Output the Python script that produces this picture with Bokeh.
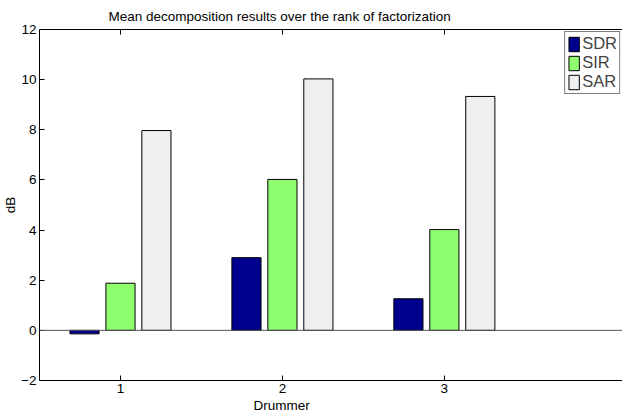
from bokeh.plotting import figure
from bokeh.models import ColumnDataSource, LinearAxis, FixedTicker, Span, Title, Range1d
from bokeh.transform import dodge
from bokeh.embed import file_html
from bokeh.resources import INLINE

drummers = [1, 2, 3]
sdr = [-0.14, 2.9, 1.26]
sir = [1.88, 6.02, 4.02]
sar = [7.97, 10.03, 9.33]
series_names = ["SDR", "SIR", "SAR"]
series_colors = ["#00008f", "#8fff70", "#efefef"]
y_ticks = [-2, 0, 2, 4, 6, 8, 10, 12]

FONT = "Liberation Sans"
FS = "13.5px"

src = ColumnDataSource(dict(x=drummers, SDR=sdr, SIR=sir, SAR=sar))

p = figure(width=622, height=418, output_backend="svg", toolbar_location=None,
           x_range=Range1d(0.5, 4.10), y_range=Range1d(-2, 12),
           min_border_left=39, min_border_right=0, min_border_top=29, min_border_bottom=38,
           x_axis_type=None, y_axis_type=None)
p.outline_line_color = None
p.xgrid.visible = False
p.ygrid.visible = False

offsets = [-0.222, 0.0, 0.222]
for name, col, off in zip(series_names, series_colors, offsets):
    p.vbar(x=dodge("x", off), top=name, bottom=0, width=0.18, source=src,
           fill_color=col, line_color="black", line_width=1, legend_label=name)

p.add_layout(Span(location=0, dimension="width", line_color="#555555", line_width=1))

def style_axis(ax):
    ax.major_tick_in = 5
    ax.major_tick_out = 0
    ax.minor_tick_in = 0
    ax.minor_tick_out = 0
    ax.axis_line_color = "black"
    ax.axis_line_width = 1
    ax.major_tick_line_color = "black"
    ax.major_label_text_font = FONT
    ax.major_label_text_font_size = FS
    ax.major_label_text_color = "black"
    ax.major_label_standoff = 3

left = LinearAxis(ticker=FixedTicker(ticks=y_ticks))
style_axis(left)
left.axis_label = "dB"
left.axis_label_text_font = FONT
left.axis_label_text_font_size = FS
left.axis_label_text_font_style = "normal"
left.axis_label_text_color = "black"
left.axis_label_standoff = 0
p.add_layout(left, "left")

bottom = LinearAxis(ticker=FixedTicker(ticks=drummers))
style_axis(bottom)
bottom.major_label_standoff = 3
p.add_layout(bottom, "below")

# top border with inward ticks (minor ticks only, so no labels)
top = LinearAxis(ticker=FixedTicker(ticks=[], minor_ticks=drummers))
top.axis_line_color = "black"
top.major_tick_in = 0
top.major_tick_out = 0
top.minor_tick_in = 5
top.minor_tick_out = 0
top.minor_tick_line_color = "black"
top.major_label_standoff = 0
p.add_layout(top, "above")

p.add_layout(Title(text="Drummer", align="left", offset=214, text_font=FONT,
                   text_font_size=FS, text_font_style="normal", text_color="black",
                   standoff=0), "below")
p.title.text = "Mean decomposition results over the rank of factorization"
p.title.align = "left"
p.title.offset = 69
p.title.text_font = FONT
p.title.text_font_size = FS
p.title.text_font_style = "normal"
p.title.text_color = "black"
p.title.vertical_align = "top"
p.title.text_line_height = 1.6
p.title.standoff = 7

lg = p.legend[0]
lg.location = "top_right"
lg.margin = 2
lg.padding = 2
lg.spacing = 0
lg.glyph_width = 13
lg.glyph_height = 18
lg.label_height = 18
lg.label_standoff = 2
lg.label_text_font = FONT
lg.label_text_font_size = "16.5px"
lg.border_line_color = "black"
lg.border_line_width = 1
lg.background_fill_alpha = 1

open("out.html", "w").write(file_html(p, INLINE))
